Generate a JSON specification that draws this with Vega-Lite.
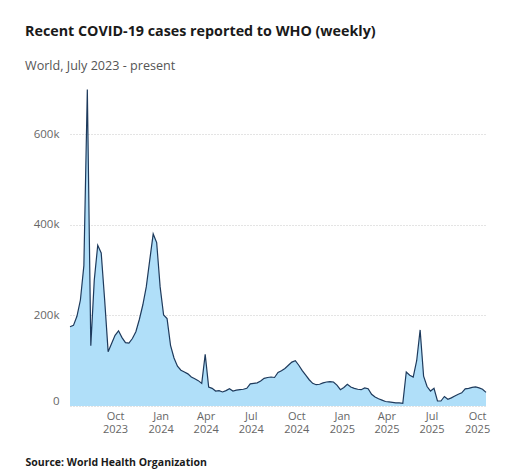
{
  "$schema": "https://vega.github.io/schema/vega-lite/v6.json",
  "autosize": {"type": "none"},
  "width": 416,
  "height": 317,
  "padding": {"left": 70, "top": 89, "right": 24, "bottom": 64},
  "background": "white",
  "title": {
    "text": "Recent COVID-19 cases reported to WHO (weekly)",
    "subtitle": "World, July 2023 - present",
    "anchor": "start",
    "frame": "group",
    "dx": -45,
    "offset": 14,
    "font": "Open Sans",
    "fontSize": 14.3,
    "fontWeight": "bold",
    "color": "#1a1a1a",
    "subtitleFont": "Open Sans",
    "subtitleFontSize": 12.6,
    "subtitleColor": "#555555",
    "subtitlePadding": 21
  },
  "config": {
    "view": {"stroke": null},
    "font": "Open Sans"
  },
  "data": {
    "values": [
      {"date": "2023-07-02", "cases": 175000},
      {"date": "2023-07-09", "cases": 178000},
      {"date": "2023-07-16", "cases": 198000},
      {"date": "2023-07-23", "cases": 234000},
      {"date": "2023-07-30", "cases": 310000},
      {"date": "2023-08-06", "cases": 699000},
      {"date": "2023-08-13", "cases": 133000},
      {"date": "2023-08-20", "cases": 278000},
      {"date": "2023-08-27", "cases": 355000},
      {"date": "2023-09-03", "cases": 338000},
      {"date": "2023-09-10", "cases": 234000},
      {"date": "2023-09-17", "cases": 120000},
      {"date": "2023-09-24", "cases": 138000},
      {"date": "2023-10-01", "cases": 156000},
      {"date": "2023-10-08", "cases": 166000},
      {"date": "2023-10-15", "cases": 151000},
      {"date": "2023-10-22", "cases": 140000},
      {"date": "2023-10-29", "cases": 139000},
      {"date": "2023-11-05", "cases": 149000},
      {"date": "2023-11-12", "cases": 164000},
      {"date": "2023-11-19", "cases": 191000},
      {"date": "2023-11-26", "cases": 223000},
      {"date": "2023-12-03", "cases": 263000},
      {"date": "2023-12-10", "cases": 322000},
      {"date": "2023-12-17", "cases": 380000},
      {"date": "2023-12-24", "cases": 361000},
      {"date": "2023-12-31", "cases": 263000},
      {"date": "2024-01-07", "cases": 201000},
      {"date": "2024-01-14", "cases": 193000},
      {"date": "2024-01-21", "cases": 134000},
      {"date": "2024-01-28", "cases": 106000},
      {"date": "2024-02-04", "cases": 88000},
      {"date": "2024-02-11", "cases": 79000},
      {"date": "2024-02-18", "cases": 75000},
      {"date": "2024-02-25", "cases": 71000},
      {"date": "2024-03-03", "cases": 64000},
      {"date": "2024-03-10", "cases": 60000},
      {"date": "2024-03-17", "cases": 56000},
      {"date": "2024-03-24", "cases": 50000},
      {"date": "2024-03-31", "cases": 114000},
      {"date": "2024-04-07", "cases": 42000},
      {"date": "2024-04-14", "cases": 39000},
      {"date": "2024-04-21", "cases": 33000},
      {"date": "2024-04-28", "cases": 34000},
      {"date": "2024-05-05", "cases": 31000},
      {"date": "2024-05-12", "cases": 34000},
      {"date": "2024-05-19", "cases": 38000},
      {"date": "2024-05-26", "cases": 33000},
      {"date": "2024-06-02", "cases": 35000},
      {"date": "2024-06-09", "cases": 36000},
      {"date": "2024-06-16", "cases": 37000},
      {"date": "2024-06-23", "cases": 39000},
      {"date": "2024-06-30", "cases": 49000},
      {"date": "2024-07-07", "cases": 50000},
      {"date": "2024-07-14", "cases": 51000},
      {"date": "2024-07-21", "cases": 55000},
      {"date": "2024-07-28", "cases": 61000},
      {"date": "2024-08-04", "cases": 63000},
      {"date": "2024-08-11", "cases": 64000},
      {"date": "2024-08-18", "cases": 63000},
      {"date": "2024-08-25", "cases": 74000},
      {"date": "2024-09-01", "cases": 78000},
      {"date": "2024-09-08", "cases": 83000},
      {"date": "2024-09-15", "cases": 90000},
      {"date": "2024-09-22", "cases": 97000},
      {"date": "2024-09-29", "cases": 100000},
      {"date": "2024-10-06", "cases": 90000},
      {"date": "2024-10-13", "cases": 78000},
      {"date": "2024-10-20", "cases": 68000},
      {"date": "2024-10-27", "cases": 58000},
      {"date": "2024-11-03", "cases": 50000},
      {"date": "2024-11-10", "cases": 47000},
      {"date": "2024-11-17", "cases": 48000},
      {"date": "2024-11-24", "cases": 51000},
      {"date": "2024-12-01", "cases": 53000},
      {"date": "2024-12-08", "cases": 54000},
      {"date": "2024-12-15", "cases": 53000},
      {"date": "2024-12-22", "cases": 46000},
      {"date": "2024-12-29", "cases": 36000},
      {"date": "2025-01-05", "cases": 41000},
      {"date": "2025-01-12", "cases": 48000},
      {"date": "2025-01-19", "cases": 42000},
      {"date": "2025-01-26", "cases": 39000},
      {"date": "2025-02-02", "cases": 37000},
      {"date": "2025-02-09", "cases": 36000},
      {"date": "2025-02-16", "cases": 40000},
      {"date": "2025-02-23", "cases": 38000},
      {"date": "2025-03-02", "cases": 26000},
      {"date": "2025-03-09", "cases": 20000},
      {"date": "2025-03-16", "cases": 16000},
      {"date": "2025-03-23", "cases": 13000},
      {"date": "2025-03-30", "cases": 10000},
      {"date": "2025-04-06", "cases": 9000},
      {"date": "2025-04-13", "cases": 8000},
      {"date": "2025-04-20", "cases": 7000},
      {"date": "2025-04-27", "cases": 7000},
      {"date": "2025-05-04", "cases": 6000},
      {"date": "2025-05-11", "cases": 75000},
      {"date": "2025-05-18", "cases": 68000},
      {"date": "2025-05-25", "cases": 64000},
      {"date": "2025-06-01", "cases": 100000},
      {"date": "2025-06-08", "cases": 168000},
      {"date": "2025-06-15", "cases": 66000},
      {"date": "2025-06-22", "cases": 43000},
      {"date": "2025-06-29", "cases": 33000},
      {"date": "2025-07-06", "cases": 39000},
      {"date": "2025-07-13", "cases": 11000},
      {"date": "2025-07-20", "cases": 11000},
      {"date": "2025-07-27", "cases": 21000},
      {"date": "2025-08-03", "cases": 15000},
      {"date": "2025-08-10", "cases": 18000},
      {"date": "2025-08-17", "cases": 22000},
      {"date": "2025-08-24", "cases": 26000},
      {"date": "2025-08-31", "cases": 29000},
      {"date": "2025-09-07", "cases": 38000},
      {"date": "2025-09-14", "cases": 39000},
      {"date": "2025-09-21", "cases": 41000},
      {"date": "2025-09-28", "cases": 42000},
      {"date": "2025-10-05", "cases": 40000},
      {"date": "2025-10-12", "cases": 37000},
      {"date": "2025-10-19", "cases": 30000}
    ]
  },
  "encoding": {
    "x": {
      "field": "date",
      "type": "temporal",
      "scale": {"type": "utc", "nice": false},
      "axis": {
        "values": [
          {"year": 2023, "month": 10, "date": 1, "utc": true},
          {"year": 2024, "month": 1, "date": 1, "utc": true},
          {"year": 2024, "month": 4, "date": 1, "utc": true},
          {"year": 2024, "month": 7, "date": 1, "utc": true},
          {"year": 2024, "month": 10, "date": 1, "utc": true},
          {"year": 2025, "month": 1, "date": 1, "utc": true},
          {"year": 2025, "month": 4, "date": 1, "utc": true},
          {"year": 2025, "month": 7, "date": 1, "utc": true},
          {"year": 2025, "month": 10, "date": 1, "utc": true}
        ],
        "labelExpr": "[utcFormat(datum.value, '%b'), utcFormat(datum.value, '%Y')]",
        "labelFont": "Open Sans",
        "labelFontSize": 11,
        "labelColor": "#666666",
        "labelLineHeight": 13.5,
        "labelPadding": 4,
        "labelBaseline": "top",
        "labelFlush": false,
        "labelOverlap": false,
        "ticks": false,
        "domain": false,
        "grid": false,
        "title": "Source: World Health Organization",
        "titleFont": "Open Sans",
        "titleFontSize": 10.5,
        "titleFontWeight": "bold",
        "titleColor": "#1a1a1a",
        "titleAnchor": "start",
        "titleAlign": "left",
        "titleBaseline": "alphabetic",
        "titleX": -45,
        "titleY": 59
      }
    },
    "y": {
      "field": "cases",
      "type": "quantitative",
      "scale": {"domain": [0, 700000], "nice": false},
      "axis": {
        "values": [0, 200000, 400000, 600000],
        "labelExpr": "datum.value == 0 ? '0' : (datum.value / 1000) + 'k'",
        "labelFont": "Open Sans",
        "labelFontSize": 11.5,
        "labelColor": "#666666",
        "labelPadding": 11,
        "labelFlush": true,
        "ticks": false,
        "domain": false,
        "grid": true,
        "gridColor": "#c8c8c8",
        "gridDash": [1, 2],
        "gridWidth": 1,
        "title": null
      }
    }
  },
  "layer": [
    {"mark": {"type": "area", "color": "#b0dff9", "opacity": 1}},
    {"mark": {"type": "line", "color": "#1e3a5c", "strokeWidth": 1.2}}
  ]
}
